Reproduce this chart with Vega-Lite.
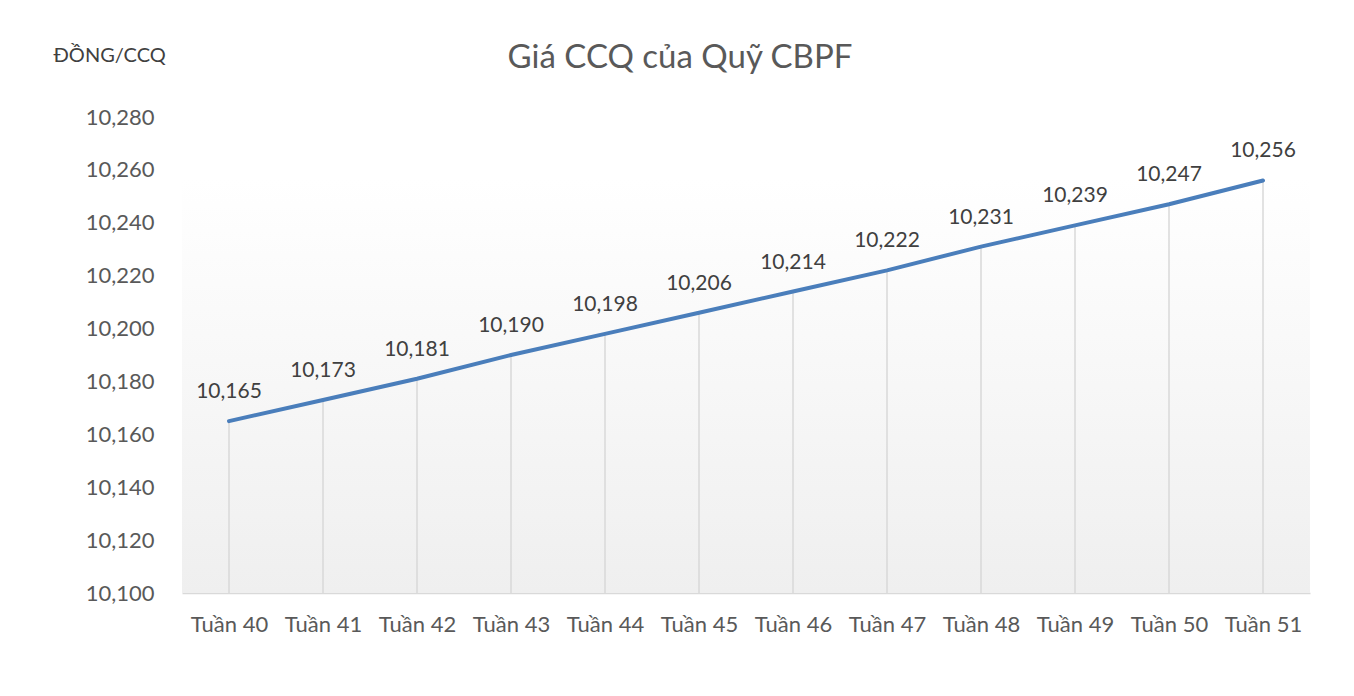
{
  "$schema": "https://vega.github.io/schema/vega-lite/v6.json",
  "width": 1128,
  "height": 476,
  "autosize": {"type": "none"},
  "padding": {"left": 182, "top": 117, "right": 44, "bottom": 103},
  "background": "white",
  "config": {
    "font": "Lato",
    "view": {"stroke": null}
  },
  "title": {
    "text": "Giá CCQ của Quỹ CBPF",
    "fontSize": 33,
    "fontWeight": "normal",
    "color": "#595959",
    "font": "Lato",
    "anchor": "middle",
    "dx": -66,
    "offset": -30
  },
  "data": {
    "values": [
      {"week": "Tuần 40", "price": 10165},
      {"week": "Tuần 41", "price": 10173},
      {"week": "Tuần 42", "price": 10181},
      {"week": "Tuần 43", "price": 10190},
      {"week": "Tuần 44", "price": 10198},
      {"week": "Tuần 45", "price": 10206},
      {"week": "Tuần 46", "price": 10214},
      {"week": "Tuần 47", "price": 10222},
      {"week": "Tuần 48", "price": 10231},
      {"week": "Tuần 49", "price": 10239},
      {"week": "Tuần 50", "price": 10247},
      {"week": "Tuần 51", "price": 10256}
    ]
  },
  "encoding": {
    "x": {
      "field": "week",
      "type": "ordinal",
      "sort": null,
      "scale": {"type": "point", "padding": 0.5},
      "axis": {
        "title": null,
        "labelAngle": 0,
        "labelFontSize": 22,
        "labelColor": "#595959",
        "labelPadding": 21,
        "ticks": false,
        "domainColor": "#d9d9d9",
        "domainWidth": 1.5,
        "grid": false
      }
    },
    "y": {
      "field": "price",
      "type": "quantitative",
      "scale": {"domain": [10100, 10280], "nice": false, "zero": false},
      "axis": {
        "title": "ĐỒNG/CCQ",
        "titleAngle": 0,
        "titleFontSize": 20,
        "titleFontWeight": "normal",
        "titleColor": "#404040",
        "titleAlign": "left",
        "titleBaseline": "middle",
        "titleX": -129,
        "titleY": -62,
        "values": [10100, 10120, 10140, 10160, 10180, 10200, 10220, 10240, 10260, 10280],
        "format": ",d",
        "labelFontSize": 22,
        "labelColor": "#595959",
        "labelPadding": 28,
        "ticks": false,
        "domain": false,
        "grid": false
      }
    }
  },
  "layer": [
    {
      "mark": {"type": "rect", "fill": {
        "gradient": "linear", "x1": 0, "y1": 0, "x2": 0, "y2": 1,
        "stops": [
          {"offset": 0, "color": "#ffffff"},
          {"offset": 0.13, "color": "#ffffff"},
          {"offset": 1, "color": "#efefef"}
        ]
      }},
      "data": {"values": [{"a": 1}]},
      "encoding": {
        "x": {"value": 0},
        "x2": {"value": 1128},
        "y": {"value": 0},
        "y2": {"value": 476}
      }
    },
    {
      "mark": {"type": "rule", "color": "#d9d9d9", "strokeWidth": 1.5},
      "encoding": {"y2": {"datum": 10100}}
    },
    {
      "mark": {"type": "line", "color": "#4a7ebb", "strokeWidth": 4, "strokeCap": "round"}
    },
    {
      "mark": {"type": "text", "fontSize": 21, "color": "#404040", "baseline": "bottom", "dy": -19},
      "encoding": {"text": {"field": "price", "type": "quantitative", "format": ",d"}}
    }
  ]
}
